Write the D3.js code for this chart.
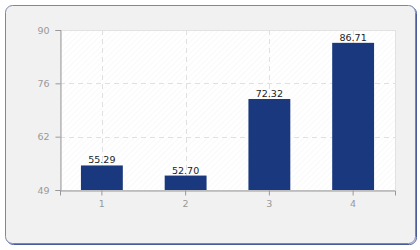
<html>
  <head>
    <script src="https://d3js.org/d3.v7.min.js"></script>
    <style>
      body { margin: 0; background: #fff; font-family: "DejaVu Sans", sans-serif; }
    </style>
  </head>
  <body>
    <svg id="chart" width="420" height="250"></svg>
    <script>
      var categories = ["1", "2", "3", "4"];
      var values = [55.29, 52.70, 72.32, 86.71];
      var yTickLabels = ["49", "62", "76", "90"];
      var yMin = 49, yMax = 90;

      var svg = d3.select("#chart");
      var margin = {left: 60, right: 25, top: 30, bottom: 60};
      var width = 420 - margin.left - margin.right;
      var height = 250 - margin.top - margin.bottom;

      var defs = svg.append("defs");
      var pat = defs.append("pattern")
        .attr("id", "hatch")
        .attr("width", 4).attr("height", 4)
        .attr("patternUnits", "userSpaceOnUse")
        .attr("patternTransform", "rotate(45)");
      pat.append("rect").attr("width", 4).attr("height", 4).attr("fill", "#fff");
      pat.append("line").attr("x1", 0).attr("y1", 0).attr("x2", 0).attr("y2", 4)
        .attr("stroke", "#f3f3f3").attr("stroke-width", 1);

      // outer panel with shadow
      svg.append("rect")
        .attr("x", 6.5).attr("y", 6.5).attr("width", 410).attr("height", 238)
        .attr("rx", 7).attr("fill", "none").attr("stroke", "#4a5c9c").attr("stroke-width", 1);
      svg.append("rect")
        .attr("x", 5.5).attr("y", 5.5).attr("width", 410).attr("height", 238)
        .attr("rx", 7).attr("fill", "#f1f1f1").attr("stroke", "#7a86b0");

      var g = svg.append("g").attr("transform", "translate(" + margin.left + "," + margin.top + ")");

      var x = d3.scaleBand().domain(categories).range([0, width])
        .paddingInner(0.5).paddingOuter(0.25);
      var y = d3.scaleLinear().domain([yMin, yMax]).range([height, 0]);
      var yTicks = d3.range(yTickLabels.length).map(function(i){
        return yMin + (yMax - yMin) * i / (yTickLabels.length - 1);
      });

      g.append("rect").attr("x", 0.5).attr("y", 0.5).attr("width", width).attr("height", height)
        .attr("fill", "url(#hatch)").attr("stroke", "#e2e2e2");

      // grid
      g.selectAll(".hgrid").data(yTicks.slice(1, -1)).enter().append("line")
        .attr("x1", 0).attr("x2", width)
        .attr("y1", function(d){ return Math.round(y(d)) + 0.5; })
        .attr("y2", function(d){ return Math.round(y(d)) + 0.5; })
        .attr("stroke", "#e0e0e0").attr("stroke-dasharray", "5,4");
      g.selectAll(".vgrid").data(categories).enter().append("line")
        .attr("y1", 0).attr("y2", height)
        .attr("x1", function(d){ return Math.round(x(d) + x.bandwidth() / 2) + 0.5; })
        .attr("x2", function(d){ return Math.round(x(d) + x.bandwidth() / 2) + 0.5; })
        .attr("stroke", "#e0e0e0").attr("stroke-dasharray", "5,4");

      // bars
      g.selectAll(".bar").data(values).enter().append("rect")
        .attr("x", function(d, i){ return x(categories[i]); })
        .attr("width", x.bandwidth())
        .attr("y", function(d){ return y(d); })
        .attr("height", function(d){ return height - y(d); })
        .attr("fill", "#1a387e");

      g.selectAll(".lbl").data(values).enter().append("text")
        .attr("x", function(d, i){ return x(categories[i]) + x.bandwidth() / 2; })
        .attr("y", function(d){ return y(d) - 2; })
        .attr("text-anchor", "middle")
        .attr("font-size", "9.5px").attr("fill", "#222")
        .text(function(d){ return d.toFixed(2); });

      // axes
      var yAxis = d3.axisLeft(y).tickValues(yTicks).tickSize(5).tickPadding(6)
        .tickFormat(function(d, i){ return yTickLabels[i]; });
      var ya = g.append("g").attr("transform", "translate(0.5,0)").call(yAxis);
      var xa = g.append("g").attr("transform", "translate(0," + (height + 0.5) + ")")
        .call(d3.axisBottom(x).tickSize(5).tickPadding(5));
      [ya, xa].forEach(function(a){
        a.select(".domain").attr("stroke", "#999");
        a.selectAll(".tick line").attr("stroke", "#999");
        a.selectAll(".tick text").attr("fill", "#999").attr("font-size", "9.5px")
          .attr("font-family", "DejaVu Sans, sans-serif");
      });
    </script>
  </body>
</html>
